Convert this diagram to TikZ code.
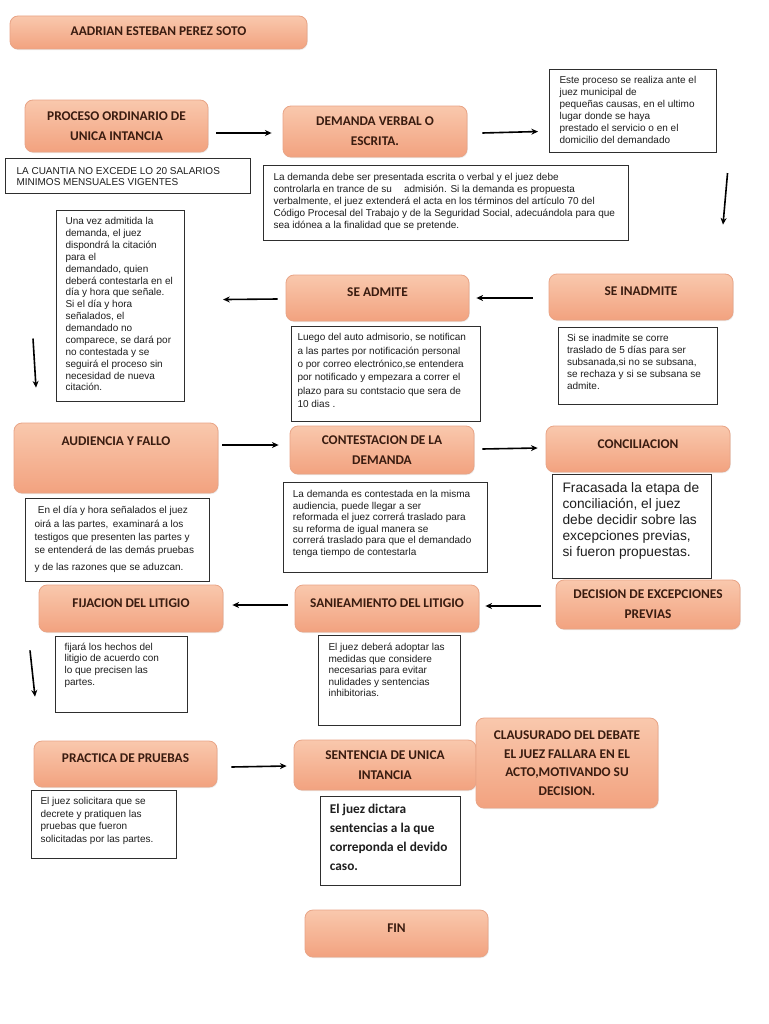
\documentclass[tikz,border=0pt]{standalone}
\usepackage{fontspec}
\setmainfont{Liberation Sans}
\newfontfamily\carlito{Carlito}
\usetikzlibrary{arrows.meta,shadows}
\newlength\upx \setlength\upx{0.75pt}
\definecolor{obtop}{HTML}{F9C8AD}
\definecolor{obbot}{HTML}{F2A27F}
\definecolor{obdraw}{HTML}{E9A486}
\definecolor{obtext}{HTML}{3A1C10}
\definecolor{tbtext}{HTML}{1E1E1E}
\definecolor{tbdraw}{HTML}{2E2E2E}
\newcommand\fs[2]{\fontsize{#1}{#2}\selectfont}
\newcommand\obox[7]{\node[obx, minimum width=#4*\upx, minimum height=#5*\upx, #6] (#1) at (#2,#3) {#7};}
\newcommand\tbox[9]{\node[tbx] (#1) at (#2,#3) {\parbox[t][#5\upx][t]{#4\upx}{\vspace*{#8\upx}\parindent=0pt\leftskip=#7\upx\rightskip=-40pt plus 1fil #6#9}};}
\tikzset{
  obx/.style={draw=obdraw, line width=0.6pt, rounded corners=6pt, top color=obtop, bottom color=obbot,
    text=obtext, font=\carlito\bfseries\fs{10}{15}, align=center, inner sep=2pt,
    drop shadow={opacity=0.15, shadow xshift=0.6pt, shadow yshift=-0.8pt}},
  tdep/.style={text depth=#1},
  tbx/.style={draw=tbdraw, line width=0.8pt, fill=white, inner sep=0pt, anchor=north west, text=tbtext},
  arr/.style={-{Stealth[length=5pt,width=4.5pt]}, line width=1.2pt, black}
}
\begin{document}
\begin{tikzpicture}[x=0.75pt,y=-0.75pt]
\fill[white] (0,0) rectangle (768,1024);
\useasboundingbox (0,0) rectangle (768,1024);

% orange boxes
\obox{title}{158.5}{32.5}{297}{33}{tdep=2.4pt}{AADRIAN ESTEBAN PEREZ SOTO}
\obox{proc}{116.5}{126}{183}{52}{}{PROCESO ORDINARIO DE\\UNICA INTANCIA}
\obox{dem}{375}{131.5}{184}{51}{}{DEMANDA VERBAL O\\ESCRITA.}
\obox{inadm}{641}{297}{184}{46}{tdep=9.5pt}{SE INADMITE}
\obox{adm}{377.5}{298}{183}{46}{tdep=8.3pt}{SE ADMITE}
\obox{aud}{116}{458}{204}{70}{tdep=25pt}{AUDIENCIA Y FALLO}
\obox{cont}{382}{450}{184}{48}{}{CONTESTACION DE LA\\DEMANDA}
\obox{conc}{638}{449}{184}{46}{tdep=7.4pt}{CONCILIACION}
\obox{fij}{131}{608.5}{184}{47}{tdep=8.4pt}{FIJACION DEL LITIGIO}
\obox{san}{387}{608.5}{184}{47}{tdep=8.4pt}{SANIEAMIENTO DEL LITIGIO}
\obox{dec}{648}{604.5}{184}{49}{}{DECISION DE EXCEPCIONES\\PREVIAS}
\obox{prac}{125.5}{764}{183}{46}{tdep=8.1pt}{PRACTICA DE PRUEBAS}
\obox{sent}{385}{765}{182}{50}{}{SENTENCIA DE UNICA\\INTANCIA}
\obox{claus}{567}{763}{182}{90}{font=\carlito\bfseries\fs{10}{14}}{CLAUSURADO DEL DEBATE\\EL JUEZ FALLARA EN EL\\ACTO,MOTIVANDO SU\\DECISION.}
\obox{fin}{396.5}{933.5}{183}{47}{tdep=8.1pt}{FIN}

% text boxes
\tbox{este}{549}{69}{167}{83}{\fs{7.5}{9}}{10}{7}{Este proceso se realiza ante el\\juez municipal de\\pequeñas causas, en el ultimo\\lugar donde se haya\\prestado el servicio o en el\\domicilio del demandado}
\tbox{cuant}{5}{158}{245}{35}{\fs{7.5}{8.8}}{11}{8.5}{LA CUANTIA NO EXCEDE LO 20 SALARIOS\\MINIMOS MENSUALES VIGENTES}
\tbox{demtxt}{263}{165}{365}{75}{\fs{7.5}{9}}{10}{7.8}{La demanda debe ser presentada escrita o verbal y el juez debe\\controlarla en trance de su\hspace*{7pt} admisión. Si la demanda es propuesta\\verbalmente, el juez extenderá el acta en los términos del artículo 70 del\\Código Procesal del Trabajo y de la Seguridad Social, adecuándola para que\\sea idónea a la finalidad que se pretende.}
\tbox{unavez}{56}{210}{128}{191}{\fs{7.5}{8.9}}{9}{7}{Una vez admitida la\\demanda, el juez\\dispondrá la citación\\para el\\demandado, quien\\deberá contestarla en el\\día y hora que señale.\\Si el día y hora\\señalados, el\\demandado no\\comparece, se dará por\\no contestada y se\\seguirá el proceso sin\\necesidad de nueva\\citación.}
\tbox{luego}{291}{326}{189}{95}{\fs{7.5}{10}}{6}{7}{Luego del auto admisorio, se notifican\\a las partes por notificación personal\\o por correo electrónico,se entendera\\por notificado y empezara a correr el\\plazo para su contstacio que sera de\\10 dias .}
\tbox{siinad}{558}{327}{159}{77}{\fs{7.5}{9}}{8.5}{6.5}{Si se inadmite se corre\\traslado de 5 días para ser\\subsanada,si no se subsana,\\se rechaza y si se subsana se\\admite.}
\tbox{endia}{25}{498}{184}{83}{\fs{7.5}{10}}{9}{8}{\hspace*{2.5pt}En el día y hora señalados el juez\\oirá a las partes,\, examinará a los\\testigos que presenten las partes y\\se entenderá de las demás pruebas\\[2.5pt]y de las razones que se aduzcan.}
\tbox{demcont}{283}{482}{204}{90}{\fs{7.5}{8.6}}{9.4}{8}{La demanda es contestada en la misma\\audiencia, puede llegar a ser\\reformada el juez correrá traslado para\\su reforma de igual manera se\\correrá traslado para que el demandado\\tenga tiempo de contestarla}
\tbox{fracas}{552}{474}{159}{104}{\fs{10.3}{12}}{10}{8}{Fracasada la etapa de\\conciliación, el juez\\debe decidir sobre las\\excepciones previas,\\si fueron propuestas.}
\tbox{fijara}{55}{636}{132}{76}{\fs{7.5}{8.8}}{9}{6.3}{fijará los hechos del\\litigio de acuerdo con\\lo que precisen las\\partes.}
\tbox{juezdeb}{318}{635}{142}{90}{\fs{7.5}{8.6}}{10}{8}{El juez deberá adoptar las\\medidas que considere\\necesarias para evitar\\nulidades y sentencias\\inhibitorias.}
\tbox{juezsol}{31}{790}{145}{68}{\fs{7.5}{9.7}}{9}{6.3}{El juez solicitara que se\\decrete y pratiquen las\\pruebas que fueron\\solicitadas por las partes.}
\tbox{juezdic}{320}{796}{140}{89}{\carlito\bfseries\fs{10}{14.3}}{9.3}{7.5}{El juez dictara\\sentencias a la que\\correponda el devido\\caso.}

% arrows
\draw[arr] ([shift={(8,7)}]proc.east) -- ([shift={(-11,1.5)}]dem.west);
\draw[arr] ([shift={(15,1.5)}]dem.east) -- ([shift={(-11,20.5)}]este.west);
\draw[arr] ([shift={(94.5,20)}]este.south) -- ([shift={(82,-49)}]inadm.north);
\draw[arr] ([shift={(-16,1)}]inadm.west) -- ([shift={(7,0)}]adm.east);
\draw[arr] ([shift={(-8,1)}]adm.west) -- ([shift={(38,-6.5)}]unavez.east);
\draw[arr] ([shift={(-23,32.5)}]unavez.west) -- ([shift={(-80,-35)}]aud.north);
\draw[arr] ([shift={(4,-13)}]aud.east) -- ([shift={(-11,-5)}]cont.west);
\draw[arr] ([shift={(8,-1)}]cont.east) -- ([shift={(-8,-1)}]conc.west);
\draw[arr] ([shift={(-15,1.5)}]dec.west) -- ([shift={(6,-2.5)}]san.east);
\draw[arr] ([shift={(-7,-3.5)}]san.west) -- ([shift={(9,-3.5)}]fij.east);
\draw[arr] ([shift={(-101,18)}]fij.south) -- ([shift={(-90.5,-44)}]prac.north);
\draw[arr] ([shift={(14,3)}]prac.east) -- ([shift={(-7,1)}]sent.west);
\end{tikzpicture}
\end{document}
